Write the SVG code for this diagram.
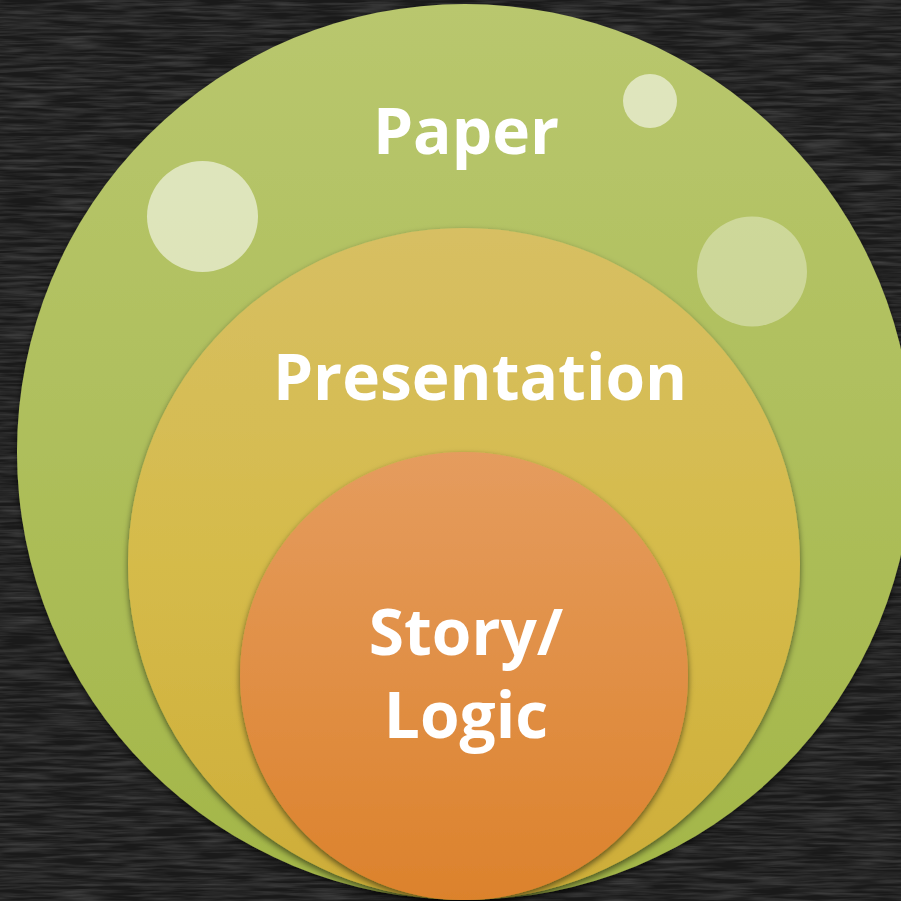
<svg xmlns="http://www.w3.org/2000/svg" width="901" height="901" viewBox="0 0 901 901">
  <defs>
    <filter id="chalk" x="0" y="0" width="100%" height="100%" color-interpolation-filters="sRGB">
      <feTurbulence type="fractalNoise" baseFrequency="0.02 0.3" numOctaves="3" seed="4" result="n"/>
      <feColorMatrix in="n" type="matrix" values="0 0 0 0 1  0 0 0 0 1  0 0 0 0 1  0 0 0 0.3 -0.1" result="w"/>
      <feComposite in="w" in2="SourceGraphic" operator="over"/>
    </filter>
    <filter id="shadow" x="-10%" y="-10%" width="120%" height="120%">
      <feDropShadow dx="0" dy="3" stdDeviation="3" flood-color="#000" flood-opacity="0.55"/>
    </filter>
    <linearGradient id="gGreen" x1="0" y1="0" x2="0" y2="1">
      <stop offset="0" stop-color="#b9c76e"/>
      <stop offset="1" stop-color="#a3b648"/>
    </linearGradient>
    <linearGradient id="gYellow" x1="0" y1="0" x2="0" y2="1">
      <stop offset="0" stop-color="#d7bf63"/>
      <stop offset="0.5" stop-color="#d5bb4a"/>
      <stop offset="1" stop-color="#cead38"/>
    </linearGradient>
    <linearGradient id="gOrange" x1="0" y1="0" x2="0" y2="1">
      <stop offset="0" stop-color="#e59c5e"/>
      <stop offset="1" stop-color="#dc822c"/>
    </linearGradient>
    <style>
      .lbl { font-family: "Open Sans", "DejaVu Sans", sans-serif; font-weight: bold; font-size: 64px; fill: #ffffff; text-anchor: middle; }
      .dot { fill: #ffffff; }
    </style>
  </defs>

  <rect x="0" y="0" width="901" height="901" fill="#1a1a1a" filter="url(#chalk)"/>

  <g id="paper">
    <circle cx="465" cy="452" r="448" fill="url(#gGreen)" filter="url(#shadow)"/>
    <circle class="dot" cx="202.5" cy="216.5" r="55.5" fill-opacity="0.56"/>
    <circle class="dot" cx="650" cy="101" r="27" fill-opacity="0.56"/>
    <circle class="dot" cx="752" cy="271.5" r="55" fill-opacity="0.35"/>
    <text class="lbl" x="466" y="154">Paper</text>
  </g>

  <g id="presentation">
    <circle cx="464" cy="564" r="336" fill="url(#gYellow)" filter="url(#shadow)"/>
    <text class="lbl" x="480" y="400">Presentation</text>
  </g>

  <g id="story-logic">
    <circle cx="464" cy="676" r="224" fill="url(#gOrange)" filter="url(#shadow)"/>
    <text class="lbl" x="466" y="655">Story/</text>
    <text class="lbl" x="466" y="738">Logic</text>
  </g>

  <g id="connectors"></g>
</svg>
